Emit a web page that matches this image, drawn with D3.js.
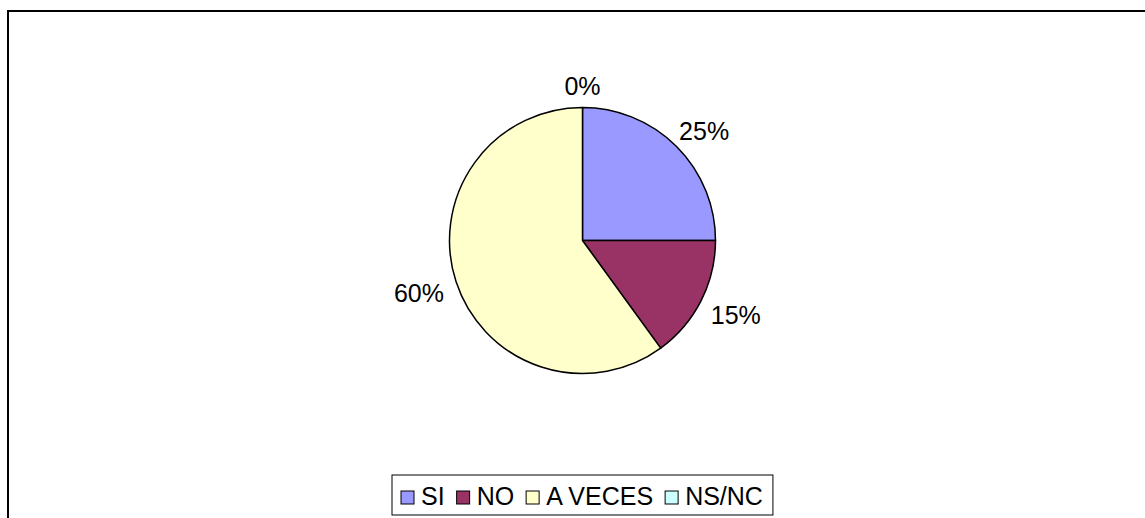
<!DOCTYPE html>
<html>
<head>
<meta charset="utf-8">
<script src="https://cdn.jsdelivr.net/npm/d3@7"></script>
<style>
  body { margin: 0; background: #fff; }
  svg { display: block; font-family: Arial, "Liberation Sans", sans-serif; }
</style>
</head>
<body>
<div id="chart"></div>
<script>
const categories = ["SI", "NO", "A VECES", "NS/NC"];
const values = [25, 15, 60, 0];
const colors = ["#9999FF", "#993366", "#FFFFCC", "#CCFFFF"];

const width = 1145, height = 518;
const cx = 582.5, cy = 240.5, radius = 133;
const fontSize = 25;

const svg = d3.select("#chart")
  .append("svg")
  .attr("width", width)
  .attr("height", height);

// chart area border (right/bottom edges run off the picture)
svg.append("rect")
  .attr("x", 8)
  .attr("y", 11)
  .attr("width", 1150)
  .attr("height", 520)
  .style("fill", "none")
  .style("stroke", "#000")
  .style("stroke-width", 2);

const data = categories.map((c, i) => ({ name: c, value: values[i], color: colors[i] }));

const pie = d3.pie().sort(null).value(d => d.value);
const arcs = pie(data);
const arc = d3.arc().innerRadius(0).outerRadius(radius);

const g = svg.append("g").attr("transform", `translate(${cx}, ${cy})`);

g.selectAll(".slice")
  .data(arcs.filter(d => d.data.value > 0))
  .enter()
  .append("path")
  .attr("class", "slice")
  .attr("d", arc)
  .style("fill", d => d.data.color)
  .style("stroke", "#000")
  .style("stroke-width", 1.5)
  .style("stroke-linejoin", "round");

// percentage labels outside the pie
const total = d3.sum(values);
const labelGap = 14;
g.selectAll(".pct")
  .data(arcs)
  .enter()
  .append("text")
  .attr("class", "pct")
  .style("font-size", fontSize + "px")
  .attr("text-anchor", "middle")
  .attr("dominant-baseline", "central")
  .text(d => Math.round(100 * d.data.value / total) + "%")
  .each(function(d) {
    const a = (d.startAngle + d.endAngle) / 2;
    const w = this.getComputedTextLength();
    const h = 18;
    const x = Math.sin(a) * (radius + labelGap + w / 2);
    const y = -Math.cos(a) * (radius + labelGap + h / 2) + (Math.cos(a) < 0 ? 3 : 0);
    d3.select(this).attr("x", x).attr("y", y + 1);
  });

// legend
const legend = svg.append("g").attr("transform", "translate(392, 475)");
const legendBox = legend.append("rect")
  .attr("x", 0)
  .attr("y", 0)
  .attr("height", 40)
  .style("fill", "#fff")
  .style("stroke", "#000")
  .style("stroke-width", 1);

let lx = 9;
data.forEach(d => {
  legend.append("rect")
    .attr("x", lx)
    .attr("y", 16)
    .attr("width", 13)
    .attr("height", 13)
    .style("fill", d.color)
    .style("stroke", "#000")
    .style("stroke-width", 1);
  const t = legend.append("text")
    .attr("x", lx + 20)
    .attr("y", 30)
    .style("font-size", fontSize + "px")
    .text(d.name);
  lx += 20 + t.node().getComputedTextLength() + 12;
});
legendBox.attr("width", Math.max(lx - 2, 380));
</script>
</body>
</html>
